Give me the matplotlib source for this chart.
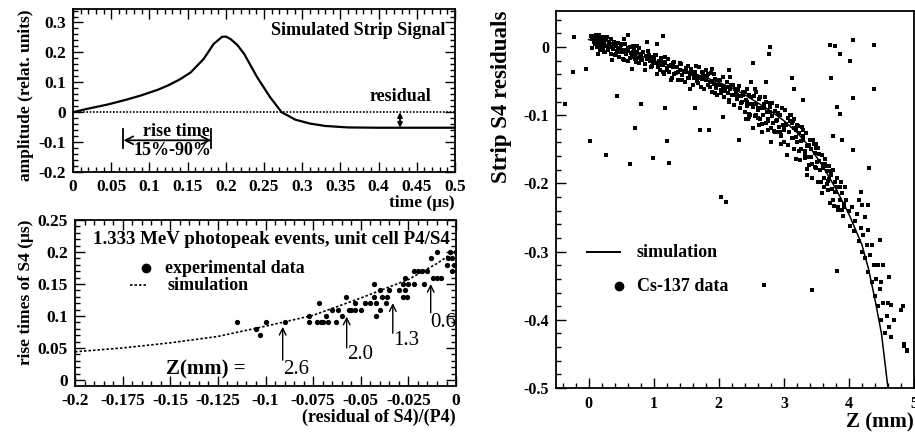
import matplotlib
matplotlib.use("Agg")
import matplotlib.pyplot as plt
from matplotlib.ticker import AutoMinorLocator, FuncFormatter, MultipleLocator

plt.rcParams["font.family"] = ["Liberation Serif", "DejaVu Serif"]
plt.rcParams["font.weight"] = "bold"
plt.rcParams["axes.labelweight"] = "bold"
plt.rcParams["axes.unicode_minus"] = False

# --- top left: simulated strip signal -------------------------------------
sig_t = [0.0, 0.02, 0.046, 0.07, 0.089, 0.11, 0.124, 0.14, 0.154, 0.171, 0.184,
         0.195, 0.2, 0.206, 0.215, 0.224, 0.241, 0.258, 0.273, 0.291, 0.31,
         0.33, 0.36, 0.4, 0.45, 0.5]
sig_amp = [0.0, 0.012, 0.026, 0.042, 0.056, 0.074, 0.089, 0.11, 0.133, 0.178,
           0.228, 0.252, 0.253, 0.245, 0.225, 0.195, 0.117, 0.05, 0.0, -0.025,
           -0.038, -0.046, -0.051, -0.052, -0.052, -0.052]
rise_start, rise_end = 0.066, 0.181
residual_t = 0.428
residual_level = -0.052

# --- bottom left: rise time vs residual -----------------------------------
sim_res = [-0.2, -0.175, -0.15, -0.125, -0.1, -0.075, -0.05, -0.025, -0.01, 0.0]
sim_rise = [0.044, 0.05, 0.058, 0.068, 0.084, 0.101, 0.128, 0.157, 0.182, 0.202]

exp_res = [-0.115, -0.105, -0.103, -0.1, -0.09, -0.077, -0.077, -0.073, -0.072,
           -0.07, -0.068, -0.067, -0.065, -0.063, -0.062, -0.06, -0.058, -0.055,
           -0.053, -0.053, -0.05, -0.048, -0.045, -0.043, -0.043, -0.042, -0.042,
           -0.04, -0.04, -0.039, -0.037, -0.036, -0.035, -0.03, -0.028, -0.028,
           -0.027, -0.027, -0.026, -0.025, -0.022, -0.022, -0.02, -0.018, -0.017,
           -0.015, -0.013, -0.012, -0.01, -0.01, -0.008, -0.005, -0.004, -0.003,
           -0.002, -0.001, 0.0, -0.002, -0.071, -0.056]
exp_rise = [0.09, 0.08, 0.07, 0.09, 0.09, 0.09, 0.1, 0.09, 0.12, 0.09, 0.1, 0.09,
            0.11, 0.09, 0.11, 0.1, 0.13, 0.11, 0.11, 0.12, 0.11, 0.12, 0.12, 0.15,
            0.13, 0.12, 0.1, 0.11, 0.14, 0.13, 0.12, 0.13, 0.14, 0.14, 0.15, 0.13,
            0.16, 0.14, 0.13, 0.15, 0.15, 0.17, 0.17, 0.17, 0.15, 0.17, 0.19, 0.16,
            0.16, 0.2, 0.16, 0.18, 0.19, 0.2, 0.19, 0.18, 0.2, 0.17, 0.09, 0.11]

z_labels = ["2.6", "2.0", "1.3", "0.6"]
z_arrow_x = [-0.091, -0.0574, -0.0332, -0.0133]
z_arrow_head = [0.083, 0.099, 0.12, 0.15]
z_arrow_tail = [0.031, 0.05, 0.073, 0.105]
z_text_y = [0.017, 0.039, 0.061, 0.09]

# --- right: strip residual vs depth Z -------------------------------------
curve_z = [0.0, 0.2, 0.4, 0.6, 0.8, 1.0, 1.2, 1.4, 1.6, 1.8, 2.0, 2.2, 2.4, 2.6,
           2.8, 3.0, 3.2, 3.4, 3.6, 3.8, 4.0, 4.2, 4.3, 4.4, 4.5, 4.6]
curve_res = [0.011, 0.006, 0.0, -0.006, -0.013, -0.02, -0.026, -0.032, -0.038,
             -0.045, -0.052, -0.06, -0.07, -0.082, -0.094, -0.108, -0.125,
             -0.147, -0.175, -0.208, -0.245, -0.29, -0.325, -0.37, -0.42, -0.5]

cs_z = [
    # Z 0 - 1
    0.05, 0.07, 0.08, 0.10, 0.10, 0.12, 0.12, 0.13, 0.14, 0.15, 0.16, 0.17, 0.18,
    0.19, 0.20, 0.21, 0.22, 0.23, 0.24, 0.25, 0.26, 0.28, 0.29, 0.30, 0.31, 0.33,
    0.34, 0.35, 0.36, 0.38, 0.39, 0.40, 0.42, 0.43, 0.45, 0.46, 0.48, 0.50, 0.51,
    0.53, 0.55, 0.56, 0.58, 0.60, 0.61, 0.63, 0.65, 0.67, 0.68, 0.70, 0.72, 0.73,
    0.75, 0.77, 0.78, 0.80, 0.82, 0.84, 0.86, 0.88, 0.90, 0.92, 0.94, 0.96, 0.98,
    1.00,
    # Z 1 - 2
    1.02, 1.04, 1.06, 1.08, 1.10, 1.12, 1.14, 1.16, 1.18, 1.20, 1.22, 1.24, 1.26,
    1.28, 1.30, 1.32, 1.34, 1.36, 1.38, 1.40, 1.42, 1.44, 1.46, 1.48, 1.50, 1.52,
    1.54, 1.56, 1.58, 1.60, 1.62, 1.64, 1.66, 1.68, 1.70, 1.72, 1.74, 1.76, 1.78,
    1.80, 1.82, 1.84, 1.86, 1.88, 1.90, 1.92, 1.94, 1.96, 1.98, 2.00,
    # Z 2 - 3
    2.02, 2.04, 2.06, 2.08, 2.10, 2.12, 2.14, 2.16, 2.18, 2.20, 2.22, 2.24, 2.26,
    2.28, 2.30, 2.32, 2.34, 2.36, 2.38, 2.40, 2.42, 2.44, 2.46, 2.48, 2.50, 2.52,
    2.54, 2.56, 2.58, 2.60, 2.62, 2.64, 2.66, 2.68, 2.70, 2.72, 2.74, 2.76, 2.78,
    2.80, 2.82, 2.84, 2.86, 2.88, 2.90, 2.92, 2.94, 2.96, 2.98, 3.00,
    # Z 3 - 3.95
    3.02, 3.04, 3.06, 3.08, 3.10, 3.12, 3.14, 3.16, 3.18, 3.20, 3.22, 3.24, 3.26,
    3.28, 3.30, 3.32, 3.34, 3.36, 3.38, 3.40, 3.42, 3.44, 3.46, 3.48, 3.50, 3.52,
    3.54, 3.56, 3.58, 3.60, 3.62, 3.64, 3.66, 3.68, 3.70, 3.72, 3.74, 3.76, 3.78,
    3.80, 3.82, 3.84, 3.86, 3.88, 3.90, 3.92, 3.94,
    # second pass along the band
    0.03, 0.06, 0.09, 0.12, 0.15, 0.18, 0.21, 0.24, 0.27, 0.30, 0.33, 0.36, 0.39,
    0.42, 0.45, 0.48, 0.51, 0.54, 0.57, 0.60, 0.63, 0.66, 0.69, 0.72, 0.75, 0.78,
    0.81, 0.84, 0.87, 0.90, 0.93, 0.96, 0.99, 1.02, 1.05, 1.08, 1.11, 1.14, 1.17,
    1.20, 1.23, 1.26, 1.29, 1.32, 1.35, 1.38, 1.41, 1.44, 1.47, 1.50, 1.53, 1.56,
    1.59, 1.62, 1.65, 1.68, 1.71, 1.74, 1.77, 1.80, 1.83, 1.86, 1.89, 1.92, 1.95,
    1.98, 2.01, 2.04, 2.07, 2.10, 2.13, 2.16, 2.19, 2.22, 2.25, 2.28, 2.31, 2.34,
    2.37, 2.40, 2.43, 2.46, 2.49, 2.52, 2.55, 2.58, 2.61, 2.64, 2.67, 2.70, 2.73,
    2.76, 2.79, 2.82, 2.85, 2.88, 2.91, 2.94, 2.97, 3.00, 3.03, 3.06, 3.09, 3.12,
    3.15, 3.18, 3.21, 3.24, 3.27, 3.30, 3.33, 3.36, 3.39, 3.42, 3.45, 3.48, 3.51,
    3.54, 3.57, 3.60, 3.63, 3.66, 3.69, 3.72, 3.75, 3.78, 3.81, 3.84, 3.87, 3.90,
    3.93, 3.96,
    # wider fringe of the band, Z 2.4 - 3.95
    2.42, 2.47, 2.53, 2.57, 2.62, 2.66, 2.71, 2.75, 2.81, 2.86, 2.90, 2.95, 3.01,
    3.05, 3.11, 3.15, 3.19, 3.25, 3.29, 3.35, 3.39, 3.44, 3.49, 3.53, 3.58, 3.62,
    3.67, 3.71, 3.77, 3.83, 3.86, 3.91, 2.44, 2.60, 2.78, 2.96, 3.14, 3.32, 3.50,
    3.68,
    # Z above 3.95
    4.00, 4.02, 4.05, 4.08, 4.10, 4.12, 4.15, 4.18, 4.20, 4.22, 4.25, 4.28, 4.30,
    4.32, 4.35, 4.38, 4.40, 4.42, 4.45, 4.48, 4.50, 4.52, 4.55, 4.58, 4.62, 4.65,
    4.20, 4.25, 4.30, 4.15, 4.35, 4.45, 4.50, 4.60, 4.70, 4.80, 4.85, 4.90,
    # scattered outliers
    -0.22, -0.24, -0.04, -0.37, 0.44, 0.02, 0.26, 0.63, 0.71, 0.80, 0.99, 1.18,
    1.21, 1.24, 1.71, 1.85, 1.64, 2.06, 2.03, 2.11, 2.31, 2.45, 1.14, 2.53, 2.49,
    2.72, 2.77, 2.79, 3.13, 3.16, 3.29, 3.71, 3.78, 3.87, 3.73, 4.01, 4.07, 4.07,
    4.38, 4.38, 3.82, 3.87, 3.76, 3.90, 4.07, 4.31, 4.19, 4.30, 3.81, 3.44, 2.69,
    4.83, 4.90, 4.84, 4.64, 4.61, 4.53, 4.47, 1.89, 1.81, 2.16, 2.17, 0.60, 0.55,
    0.90, 1.05,
]
cs_res = [
    # Z 0 - 1
    0.012, 0.016, 0.008, 0.014, 0.004, 0.018, 0.010, 0.000, 0.013, 0.006, 0.017,
    -0.004, 0.011, 0.003, 0.015, 0.008, -0.002, 0.012, 0.005, -0.008, 0.010,
    0.002, 0.014, -0.005, 0.007, 0.000, 0.011, -0.010, 0.004, -0.003, 0.008,
    -0.012, 0.002, -0.006, 0.006, -0.015, -0.002, 0.003, -0.008, -0.018, -0.004,
    0.004, -0.011, -0.006, -0.020, 0.000, -0.009, -0.015, 0.002, -0.004, -0.012,
    -0.022, -0.007, -0.016, -0.002, -0.011, -0.019, -0.008, -0.025, -0.013,
    -0.018, -0.006, -0.021, -0.014, -0.028, -0.018,
    # Z 1 - 2
    -0.024, -0.012, -0.030, -0.020, -0.034, -0.016, -0.027, -0.040, -0.022,
    -0.031, -0.018, -0.036, -0.026, -0.045, -0.030, -0.022, -0.038, -0.029,
    -0.048, -0.033, -0.025, -0.041, -0.035, -0.052, -0.037, -0.028, -0.046,
    -0.039, -0.032, -0.055, -0.042, -0.036, -0.050, -0.044, -0.030, -0.058,
    -0.047, -0.040, -0.062, -0.049, -0.043, -0.056, -0.051, -0.038, -0.066,
    -0.054, -0.047, -0.060, -0.070, -0.055,
    # Z 2 - 3
    -0.048, -0.063, -0.057, -0.074, -0.060, -0.052, -0.068, -0.080, -0.062,
    -0.071, -0.056, -0.085, -0.067, -0.076, -0.062, -0.090, -0.072, -0.081,
    -0.066, -0.095, -0.077, -0.086, -0.071, -0.100, -0.083, -0.088, -0.072,
    -0.101, -0.084, -0.093, -0.076, -0.106, -0.090, -0.099, -0.083, -0.112,
    -0.096, -0.105, -0.088, -0.119, -0.101, -0.111, -0.094, -0.125, -0.107,
    -0.118, -0.099, -0.131, -0.114, -0.122,
    # Z 3 - 3.95
    -0.092, -0.115, -0.104, -0.125, -0.100, -0.111, -0.134, -0.105, -0.122,
    -0.140, -0.116, -0.126, -0.150, -0.118, -0.137, -0.158, -0.126, -0.145,
    -0.162, -0.137, -0.149, -0.172, -0.142, -0.156, -0.178, -0.148, -0.167,
    -0.181, -0.158, -0.171, -0.192, -0.164, -0.182, -0.196, -0.174, -0.188,
    -0.208, -0.180, -0.198, -0.212, -0.192, -0.206, -0.224, -0.198, -0.214,
    -0.230, -0.206,
    # second pass along the band
    0.016, -0.002, 0.007, 0.017, -0.010, 0.001, 0.009, -0.008, 0.015, -0.005,
    0.001, -0.019, 0.005, -0.011, -0.001, -0.008, 0.005, -0.019, -0.008, -0.002,
    -0.016, -0.032, -0.007, -0.017, 0.001, -0.024, -0.017, -0.007, -0.033,
    -0.017, -0.012, -0.030, -0.022, -0.012, -0.039, -0.027, -0.020, -0.037,
    -0.014, -0.034, -0.028, -0.048, -0.024, -0.040, -0.030, -0.037, -0.024,
    -0.048, -0.037, -0.031, -0.045, -0.061, -0.036, -0.046, -0.028, -0.053,
    -0.046, -0.036, -0.062, -0.046, -0.040, -0.058, -0.050, -0.040, -0.067,
    -0.056, -0.049, -0.067, -0.044, -0.064, -0.058, -0.078, -0.055, -0.071,
    -0.061, -0.070, -0.057, -0.082, -0.071, -0.066, -0.081, -0.098, -0.073,
    -0.084, -0.061, -0.099, -0.089, -0.074, -0.113, -0.090, -0.081, -0.108,
    -0.096, -0.082, -0.123, -0.108, -0.097, -0.124, -0.090, -0.120, -0.113,
    -0.143, -0.108, -0.133, -0.119, -0.132, -0.114, -0.152, -0.138, -0.130,
    -0.153, -0.179, -0.143, -0.161, -0.136, -0.176, -0.168, -0.157, -0.198,
    -0.177, -0.171, -0.201, -0.193, -0.182, -0.225, -0.213, -0.205, -0.235,
    -0.205, -0.239, -0.234, -0.225,
    # wider fringe of the band, Z 2.4 - 3.95
    -0.106, -0.102, -0.119, -0.066, -0.115, -0.124, -0.073, -0.121, -0.139,
    -0.124, -0.086, -0.142, -0.140, -0.158, -0.100, -0.150, -0.164, -0.165,
    -0.122, -0.187, -0.173, -0.192, -0.142, -0.198, -0.214, -0.206, -0.175,
    -0.229, -0.233, -0.239, -0.205, -0.248, -0.062, -0.104, -0.082, -0.129,
    -0.108, -0.163, -0.148, -0.210,
    # Z above 3.95
    -0.240, -0.262, -0.235, -0.270, -0.255, -0.245, -0.285, -0.265, -0.300,
    -0.275, -0.310, -0.290, -0.330, -0.305, -0.345, -0.320, -0.365, -0.340,
    -0.380, -0.355, -0.400, -0.375, -0.420, -0.395, -0.410, -0.425,
    -0.232, -0.250, -0.268, -0.225, -0.290, -0.320, -0.345, -0.375, -0.400,
    -0.385, -0.435, -0.445,
    # scattered outliers
    0.015, -0.037, -0.032, -0.084, -0.072, -0.138, -0.158, -0.172, -0.119,
    -0.084, -0.163, -0.089, -0.138, -0.170, -0.121, -0.121, -0.090, -0.103,
    -0.220, -0.228, -0.136, -0.106, 0.016, -0.023, -0.052, -0.051, -0.011, 0.000,
    -0.045, -0.061, -0.078, 0.003, 0.002, -0.010, -0.045, -0.021, -0.075, 0.010,
    0.003, -0.062, -0.088, -0.098, -0.131, -0.137, -0.151, -0.178, -0.213,
    -0.232, -0.328, -0.356, -0.349, -0.380, -0.446, -0.438, -0.378, -0.337,
    -0.320, -0.283, -0.032, -0.033, -0.034, -0.044, 0.018, 0.012, 0.008, 0.004,
]

LEFT_TICK = 12.5
LEFT_LABEL = 12.5
NOTE = 13
fmt = FuncFormatter(lambda v, pos: f"{round(v, 6):g}")


def root_style(ax, mirror=True, size=LEFT_TICK):
    ax.tick_params(which="both", direction="in", top=mirror, right=mirror,
                   labelsize=size, width=1.0, pad=5)
    ax.tick_params(which="major", length=7)
    ax.tick_params(which="minor", length=3.5)
    for sp in ax.spines.values():
        sp.set_linewidth(1.3)
    ax.xaxis.set_major_formatter(fmt)
    ax.yaxis.set_major_formatter(fmt)


fig = plt.figure(figsize=(9.15, 4.34), dpi=100)

# top-left panel
ax1 = fig.add_axes([0.0798, 0.6037, 0.4175, 0.3755])
ax1.plot(sig_t, sig_amp, color="black", lw=1.6)
ax1.axhline(0, color="black", lw=1.2, ls=(0, (1, 1)))
ax1.set_xlim(0, 0.5)
ax1.set_ylim(-0.2, 0.345)
ax1.xaxis.set_major_locator(MultipleLocator(0.05))
ax1.xaxis.set_minor_locator(AutoMinorLocator(5))
ax1.yaxis.set_major_locator(MultipleLocator(0.1))
ax1.yaxis.set_minor_locator(AutoMinorLocator(5))
root_style(ax1)
ax1.set_xlabel("time (μs)", fontsize=LEFT_LABEL, loc="right", labelpad=0)
ax1.set_ylabel("amplitude (relat. units)", fontsize=LEFT_LABEL, loc="top", labelpad=3)
ax1.text(0.487, 0.272, "Simulated Strip Signal", fontsize=NOTE, ha="right", va="center")
ax1.text(0.428, 0.052, "residual", fontsize=NOTE, ha="center", va="center")
ax1.annotate("", xy=(residual_t, residual_level), xytext=(residual_t, 0.0),
             arrowprops=dict(arrowstyle="<|-|>", color="black", lw=1.3,
                             mutation_scale=7, shrinkA=0, shrinkB=0))
for t in (rise_start, rise_end):
    ax1.plot([t, t], [-0.055, -0.121], color="black", lw=1.3)
ax1.annotate("", xy=(rise_start, -0.094), xytext=(rise_end, -0.094),
             arrowprops=dict(arrowstyle="<->", color="black", lw=1.3,
                             mutation_scale=14, shrinkA=0, shrinkB=0))
ax1.text(0.135, -0.092, "rise time", fontsize=NOTE, ha="center", va="bottom")
ax1.text(0.13, -0.1, "15%-90%", fontsize=NOTE, ha="center", va="top")

# bottom-left panel
ax2 = fig.add_axes([0.082, 0.1106, 0.4164, 0.3825])
ax2.plot(sim_res, sim_rise, color="black", lw=1.2, ls=(0, (1.5, 1.2)))
ax2.plot(exp_res, exp_rise, "o", color="black", ms=3.8, mew=0)
ax2.set_xlim(-0.2, 0.0)
ax2.set_ylim(-0.0095, 0.25)
ax2.xaxis.set_major_locator(MultipleLocator(0.025))
ax2.xaxis.set_minor_locator(AutoMinorLocator(5))
ax2.yaxis.set_major_locator(MultipleLocator(0.05))
ax2.yaxis.set_minor_locator(AutoMinorLocator(5))
root_style(ax2)
ax2.set_xlabel("(residual of S4)/(P4)", fontsize=LEFT_LABEL + 0.5, loc="right", labelpad=0)
ax2.set_ylabel("rise times of S4 (μs)", fontsize=LEFT_LABEL, loc="top", labelpad=3)
ax2.text(0.047, 0.88, "1.333 MeV photopeak events, unit cell P4/S4",
         transform=ax2.transAxes, fontsize=13.6, va="center")
ax2.plot([0.186], [0.71], "o", color="black", ms=6, transform=ax2.transAxes)
ax2.text(0.236, 0.71, "experimental data", transform=ax2.transAxes,
         fontsize=NOTE, va="center")
ax2.plot([0.144, 0.189], [0.607, 0.607], color="black", lw=1.2,
         ls=(0, (1.5, 1.2)), transform=ax2.transAxes)
ax2.text(0.244, 0.607, "simulation", transform=ax2.transAxes, fontsize=NOTE,
         va="center")
ax2.text(-0.152, 0.017, "Z(mm) =", fontsize=15, va="center")
for lab, x, head, tail, ty in zip(z_labels, z_arrow_x, z_arrow_head,
                                  z_arrow_tail, z_text_y):
    ax2.annotate("", xy=(x, head), xytext=(x, tail),
                 arrowprops=dict(arrowstyle="->", color="black", lw=1.0,
                                 mutation_scale=12, shrinkA=0, shrinkB=0))
    ax2.text(x, ty, lab, fontsize=15, fontweight="normal", ha="left", va="center")

# right panel
ax3 = fig.add_axes([0.6077, 0.106, 0.3912, 0.869])
ax3.scatter(cs_z, cs_res, s=5, marker="s", color="black", linewidths=0)
ax3.plot(curve_z, curve_res, color="black", lw=1.1)
ax3.set_xlim(-0.5, 5.0)
ax3.set_ylim(-0.5, 0.053)
ax3.xaxis.set_major_locator(MultipleLocator(1))
ax3.xaxis.set_minor_locator(AutoMinorLocator(5))
ax3.yaxis.set_major_locator(MultipleLocator(0.1))
ax3.yaxis.set_minor_locator(AutoMinorLocator(5))
root_style(ax3, mirror=False, size=11.5)
ax3.tick_params(axis="x", pad=6)
ax3.set_xlabel("Z (mm)", fontsize=15, loc="right", labelpad=0)
ax3.set_ylabel("Strip S4 residuals", fontsize=16.5, loc="top", labelpad=8)
ax3.plot([0.087, 0.18], [0.36, 0.36], color="black", lw=1.4, transform=ax3.transAxes)
ax3.text(0.226, 0.36, "simulation", transform=ax3.transAxes, fontsize=NOTE,
         va="center")
ax3.plot([0.177], [0.27], "o", color="black", ms=6, transform=ax3.transAxes)
ax3.text(0.226, 0.27, "Cs-137 data", transform=ax3.transAxes, fontsize=NOTE,
         va="center")

fig.savefig("out.png", dpi=100)
